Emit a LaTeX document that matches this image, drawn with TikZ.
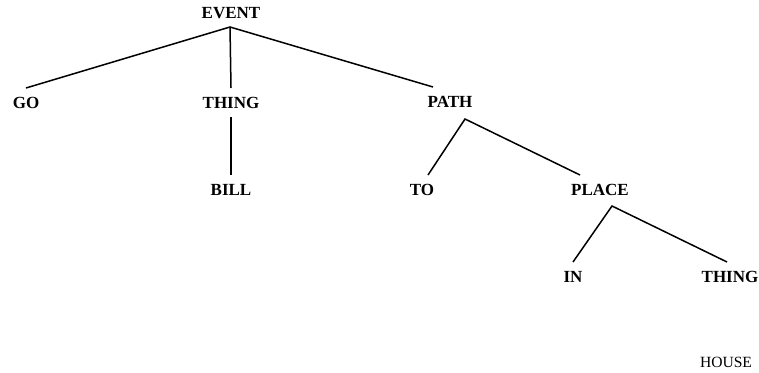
\documentclass[tikz,border=0pt]{standalone}
\usepackage{fontspec}
\setmainfont{Liberation Serif}
\begin{document}
\begin{tikzpicture}[x=1pt,y=-1pt,
  lab/.style={font=\fontsize{17}{18}\selectfont\bfseries, anchor=base, inner xsep=0pt, inner ysep=9pt, outer sep=0pt, text height=11pt, text depth=0pt},
  plain/.style={font=\fontsize{15.6}{18}\selectfont, anchor=base, inner sep=0pt},
  edge/.style={line width=1.5pt, black}]
\useasboundingbox (0,0) rectangle (759,372);
\node[lab] (ev) at (231,18) {EVENT};
\node[lab] (go) at (26,108) {GO};
\node[lab] (th1) at (231,108) {THING};
\node[lab] (path) at (450,107) {PATH};
\node[lab] (bill) at (231,195) {BILL};
\node[lab] (to) at (422,195) {TO};
\node[lab] (place) at (600,195) {PLACE};
\node[lab] (in) at (573,282) {IN};
\node[lab] (th2) at (730,282) {THING};
\node[plain] (house) at (726,367) {HOUSE};
\draw[edge] (go.north) -- ([xshift=-1pt]ev.south) -- ([xshift=-17pt]path.north);
\draw[edge] ([xshift=-1pt]ev.south) -- (th1.north);
\draw[edge] (th1.south) -- (bill.north);
\draw[edge] ([xshift=6pt]to.north) -- ([xshift=15pt,yshift=-3pt]path.south) -- ([xshift=-20pt]place.north);
\draw[edge] (in.north) -- ([xshift=12pt,yshift=-2pt]place.south) -- ([xshift=-3pt]th2.north);
\end{tikzpicture}
\end{document}
